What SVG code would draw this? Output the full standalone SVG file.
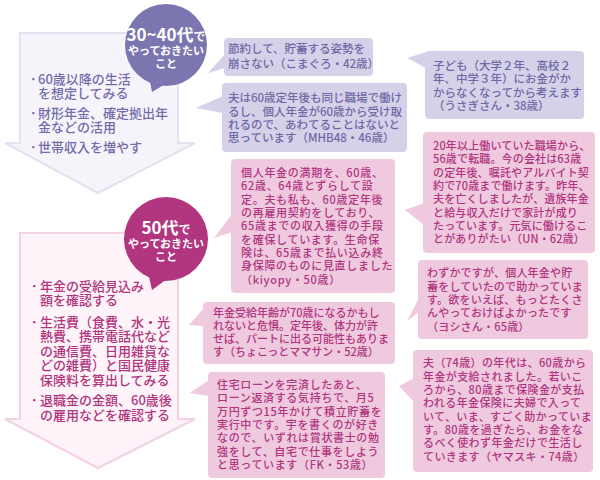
<svg xmlns="http://www.w3.org/2000/svg" width="600" height="480" viewBox="0 0 600 480">
<style>
text{font-family:"Noto Sans CJK JP","Noto Sans",sans-serif}
.pb{fill:#d5d1e8}
.kb{fill:#efc9de}
.pt{fill:#6f68a6;font-size:11.5px;font-weight:500}
.kt{fill:#b0357e;font-size:11px;font-weight:500}
.ct{fill:#fff;font-weight:bold;text-anchor:middle}
.la{fill:#736cab;font-size:13px;font-weight:500}
.lk{fill:#b0357e;font-size:13px;font-weight:500}
</style>
<rect width="600" height="480" fill="#fff"/>
<g id="arrow-top">
<path d="M20,33 L178,33 L178,143 L195,143 L98,193 L5,143 L20,143 Z" fill="#f6f4fa" stroke="#e4e1f0" stroke-width="2"/>
<text class="la"><tspan x="30" y="84">･</tspan><tspan x="38" y="84">60歳以降の生活</tspan><tspan x="38" y="98">を想定してみる</tspan><tspan x="30" y="118">･</tspan><tspan x="38" y="118">財形年金、確定拠出年</tspan><tspan x="38" y="132">金などの活用</tspan><tspan x="30" y="152">･</tspan><tspan x="38" y="152">世帯収入を増やす</tspan></text>
</g>
<g id="arrow-bottom">
<path d="M20,233 L178,233 L178,419 L195,419 L98,468 L5,419 L20,419 Z" fill="#fdf3f8" stroke="#f4d2e4" stroke-width="2"/>
<text class="lk"><tspan x="31" y="291">･</tspan><tspan x="40" y="291">年金の受給見込み</tspan><tspan x="40" y="305">額を確認する</tspan><tspan x="31" y="327">･</tspan><tspan x="40" y="327">生活費（食費、水・光</tspan><tspan x="40" y="341">熱費、携帯電話代など</tspan><tspan x="40" y="356">の通信費、日用雑貨な</tspan><tspan x="40" y="370">どの雑費）と国民健康</tspan><tspan x="40" y="385">保険料を算出してみる</tspan><tspan x="31" y="405">･</tspan><tspan x="40" y="405">退職金の金額、60歳後</tspan><tspan x="40" y="420">の雇用などを確認する</tspan></text>
</g>
<g id="circle-3040">
<circle cx="166" cy="45" r="41" fill="#7c76b0"/>
<path d="M149,76 L152,92 L167,83 Z" fill="#7c76b0"/>
<text class="ct"><tspan x="166" y="41" font-size="17">30~40代</tspan><tspan font-size="12">で</tspan><tspan x="166" y="55" font-size="11">やっておきたい</tspan><tspan x="166" y="68" font-size="11">こと</tspan></text>
</g>
<g id="circle-50">
<circle cx="166" cy="239" r="42" fill="#b1357f"/>
<path d="M148,272 L152,290 L167,279 Z" fill="#b1357f"/>
<text class="ct"><tspan x="166" y="234" font-size="17">50代</tspan><tspan font-size="12">で</tspan><tspan x="166" y="248" font-size="11">やっておきたい</tspan><tspan x="166" y="261" font-size="11">こと</tspan></text>
</g>
<g id="connectors"></g>
<g id="b1">
<rect class="pb" x="224" y="38" width="149" height="38" rx="4"/>
<path class="pb" d="M225,54 L208,73 L225,68 Z"/>
<text class="pt"><tspan x="228" y="53">節約して、貯蓄する姿勢を</tspan><tspan x="228" y="68">崩さない（こまぐろ・42歳）</tspan></text>
</g>
<g id="b2">
<rect class="pb" x="222" y="83" width="185" height="69" rx="4"/>
<path class="pb" d="M223,96 L196,108 L223,113 Z"/>
<text class="pt"><tspan x="228" y="102">夫は60歳定年後も同じ職場で働け</tspan><tspan x="228" y="116">るし、個人年金が60歳から受け取</tspan><tspan x="228" y="129">れるので、あわてることはないと</tspan><tspan x="228" y="142">思っています（MHB48・46歳）</tspan></text>
</g>
<g id="b3">
<rect class="pb" x="425" y="51" width="159" height="68" rx="4"/>
<path class="pb" d="M426,52 L407,58 L426,68 Z"/>
<text class="pt"><tspan x="433" y="69.5">子ども（大学２年、高校２</tspan><tspan x="433" y="83">年、中学３年）にお金がか</tspan><tspan x="433" y="96.5">からなくなってから考えます</tspan><tspan x="433" y="110">（うさぎさん・38歳）</tspan></text>
</g>
<g id="b4">
<rect class="kb" x="231" y="159" width="164" height="134" rx="4"/>
<path class="kb" d="M232,214 L214,238 L232,232 Z"/>
<text class="kt" letter-spacing="0.7"><tspan x="241" y="177">個人年金の満期を、60歳、</tspan><tspan x="241" y="190">62歳、64歳とずらして設</tspan><tspan x="241" y="203.5">定。夫も私も、60歳定年後</tspan><tspan x="241" y="217">の再雇用契約をしており、</tspan><tspan x="241" y="230">65歳までの収入獲得の手段</tspan><tspan x="241" y="243.5">を確保しています。生命保</tspan><tspan x="241" y="257">険は、65歳まで払い込み終</tspan><tspan x="241" y="270">身保障のものに見直しました</tspan><tspan x="241" y="283.5">（kiyopy・50歳）</tspan></text>
</g>
<g id="b5">
<rect class="kb" x="423" y="132" width="172" height="121" rx="4"/>
<path class="kb" d="M424,203 L405,210 L424,225 Z"/>
<text class="kt" letter-spacing="0.15"><tspan x="433" y="150">20年以上働いていた職場から、</tspan><tspan x="433" y="163">56歳で転職。今の会社は63歳</tspan><tspan x="433" y="176.5">の定年後、嘱託やアルバイト契</tspan><tspan x="433" y="190">約で70歳まで働けます。昨年、</tspan><tspan x="433" y="203">夫を亡くしましたが、遺族年金</tspan><tspan x="433" y="216.5">と給与収入だけで家計が成り</tspan><tspan x="433" y="230">たっています。元気に働けるこ</tspan><tspan x="433" y="243">とがありがたい（UN・62歳）</tspan></text>
</g>
<g id="b6">
<rect class="kb" x="203" y="302" width="192" height="62" rx="4"/>
<path class="kb" d="M204,308 L189,325 L204,326 Z"/>
<text class="kt" font-size="10.8"><tspan x="213" y="317">年金受給年齢が70歳になるかもし</tspan><tspan x="213" y="330">れないと危惧。定年後、体力が許</tspan><tspan x="213" y="343">せば、パートに出る可能性もありま</tspan><tspan x="213" y="356">す（ちょこっとママサン・52歳）</tspan></text>
</g>
<g id="b7">
<rect class="kb" x="418" y="260" width="170" height="79" rx="4"/>
<path class="kb" d="M419,298 L407,321 L419,312 Z"/>
<text class="kt" font-size="11.5" letter-spacing="0.2"><tspan x="427" y="277">わずかですが、個人年金や貯</tspan><tspan x="427" y="290.5">蓄をしていたので助かっていま</tspan><tspan x="427" y="304">す。欲をいえば、もっとたくさ</tspan><tspan x="427" y="317">んやっておけばよかったです</tspan><tspan x="427" y="331">（ヨシさん・65歳）</tspan></text>
</g>
<g id="b8">
<rect class="kb" x="208" y="372" width="177" height="106" rx="4"/>
<path class="kb" d="M209,380 L190,393 L209,396 Z"/>
<text class="kt" font-size="11.5" letter-spacing="0.65"><tspan x="217" y="389">住宅ローンを完済したあと、</tspan><tspan x="217" y="402">ローン返済する気持ちで、月5</tspan><tspan x="217" y="415.5">万円ずつ15年かけて積立貯蓄を</tspan><tspan x="217" y="429">実行中です。宇を書くのが好き</tspan><tspan x="217" y="442">なので、いずれは賞状書士の勉</tspan><tspan x="217" y="455.5">強をして、自宅で仕事をしよう</tspan><tspan x="217" y="469">と思っています（FK・53歳）</tspan></text>
</g>
<g id="b9">
<rect class="kb" x="413" y="350" width="180" height="122" rx="4"/>
<path class="kb" d="M414,378 L399,386 L414,402 Z"/>
<text class="kt" letter-spacing="0.4"><tspan x="423" y="367">夫（74歳）の年代は、60歳から</tspan><tspan x="423" y="380.5">年金が支給されました。若いこ</tspan><tspan x="423" y="394">ろから、80歳まで保険金が支払</tspan><tspan x="423" y="407">われる年金保険に夫婦で入って</tspan><tspan x="423" y="420.5">いて、いま、すごく助かっていま</tspan><tspan x="423" y="434">す。80歳を過ぎたら、お金をな</tspan><tspan x="423" y="447">るべく使わず年金だけで生活し</tspan><tspan x="423" y="461">ていきます（ヤマスキ・74歳）</tspan></text>
</g>
</svg>
